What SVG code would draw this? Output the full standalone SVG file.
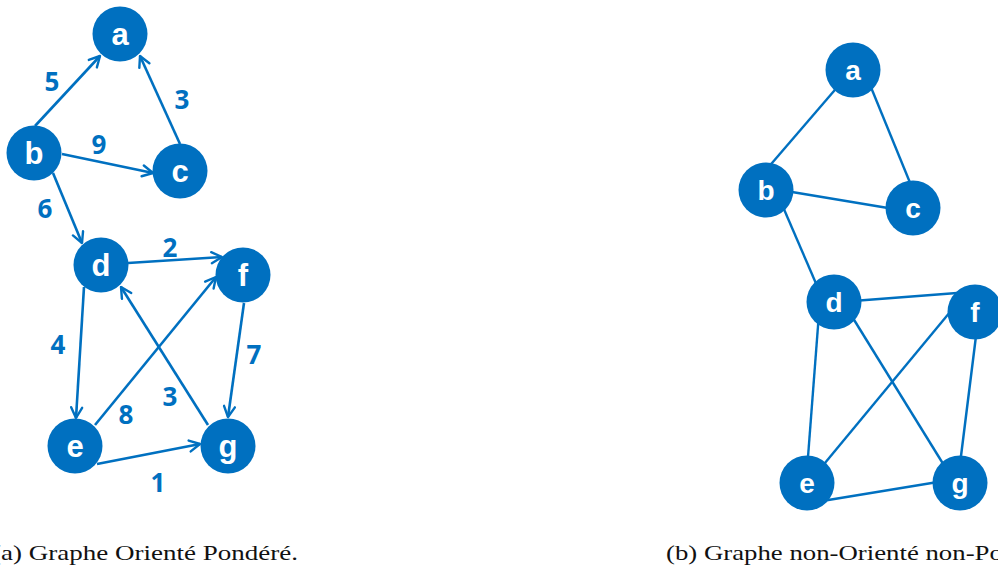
<svg xmlns="http://www.w3.org/2000/svg" width="998" height="570" viewBox="0 0 998 570">
<defs>
<style>
.node{fill:#0070C0;}
.lbl{font-family:"Liberation Sans",Arial,sans-serif;font-weight:bold;fill:#ffffff;text-anchor:middle;}
.l1{font-size:31px;}
.l2{font-size:28px;}
.e{stroke:#0070C0;stroke-width:2.6;fill:none;}
.u{stroke:#0070C0;stroke-width:2.4;fill:none;}
.w{font-family:"Open Sans","DejaVu Sans",sans-serif;font-weight:bold;font-size:26px;fill:#0070C0;text-anchor:middle;}
.cap{font-family:"Liberation Serif","Times New Roman",serif;font-size:22px;fill:#111111;}
</style>
<marker id="arr" viewBox="0 0 14 14" refX="12.5" refY="7" markerWidth="14" markerHeight="14" markerUnits="userSpaceOnUse" orient="auto">
<path d="M2,1.5 L12.5,7 L2,12.5" fill="none" stroke="#0070C0" stroke-width="2.4" stroke-linecap="round" stroke-linejoin="round"/>
</marker>
</defs>
<rect width="998" height="570" fill="#ffffff"/>
<g id="connectors-a">
<line class="e" x1="35" y1="126" x2="100" y2="56" marker-end="url(#arr)"/>
<line class="e" x1="180" y1="144" x2="140" y2="56" marker-end="url(#arr)"/>
<line class="e" x1="62" y1="154" x2="153" y2="173" marker-end="url(#arr)"/>
<line class="e" x1="53" y1="173" x2="82" y2="243" marker-end="url(#arr)"/>
<line class="e" x1="128" y1="263" x2="222" y2="257" marker-end="url(#arr)"/>
<line class="e" x1="84" y1="287" x2="76" y2="418" marker-end="url(#arr)"/>
<line class="e" x1="244" y1="303" x2="228" y2="417" marker-end="url(#arr)"/>
<line class="e" x1="208" y1="425" x2="121" y2="287" marker-end="url(#arr)"/>
<line class="e" x1="95" y1="425" x2="216" y2="277" marker-end="url(#arr)"/>
<line class="e" x1="97" y1="464" x2="200" y2="444" marker-end="url(#arr)"/>
</g>
<g id="weights-a">
<text class="w" x="52" y="91">5</text>
<text class="w" x="182" y="109">3</text>
<text class="w" x="99" y="154">9</text>
<text class="w" x="45" y="218">6</text>
<text class="w" x="170" y="257">2</text>
<text class="w" x="58" y="354">4</text>
<text class="w" x="254" y="364">7</text>
<text class="w" x="170" y="406">3</text>
<text class="w" x="126" y="424">8</text>
<text class="w" x="158" y="492">1</text>
</g>
<g id="a-a"><circle class="node" cx="120" cy="34" r="27.5"/><text class="lbl l1" x="120" y="45">a</text></g>
<g id="a-b"><circle class="node" cx="34" cy="153" r="27.5"/><text class="lbl l1" x="34" y="164">b</text></g>
<g id="a-c"><circle class="node" cx="180" cy="171" r="27.5"/><text class="lbl l1" x="180" y="182">c</text></g>
<g id="a-d"><circle class="node" cx="101" cy="265" r="27.5"/><text class="lbl l1" x="101" y="276">d</text></g>
<g id="a-f"><circle class="node" cx="243" cy="275" r="27.5"/><text class="lbl l1" x="243" y="286">f</text></g>
<g id="a-e"><circle class="node" cx="75" cy="446" r="27.5"/><text class="lbl l1" x="75" y="457">e</text></g>
<g id="a-g"><circle class="node" cx="228" cy="446" r="27.5"/><text class="lbl l1" x="228" y="457">g</text></g>
<g id="connectors-b">
<line class="u" x1="840" y1="84" x2="766" y2="170"/>
<line class="u" x1="868" y1="80" x2="913" y2="190"/>
<line class="u" x1="780" y1="190" x2="900" y2="210"/>
<line class="u" x1="780" y1="200" x2="824" y2="302"/>
<line class="u" x1="840" y1="302" x2="970" y2="292"/>
<line class="u" x1="820" y1="300" x2="807" y2="470"/>
<line class="u" x1="843" y1="302" x2="950" y2="475"/>
<line class="u" x1="960" y1="300" x2="815" y2="475"/>
<line class="u" x1="978" y1="320" x2="958" y2="480"/>
<line class="u" x1="810" y1="503" x2="950" y2="480"/>
</g>
<g id="b-a"><circle class="node" cx="853" cy="70" r="27.5"/><text class="lbl l2" x="853" y="80">a</text></g>
<g id="b-b"><circle class="node" cx="766" cy="190" r="27.5"/><text class="lbl l2" x="766" y="200">b</text></g>
<g id="b-c"><circle class="node" cx="913" cy="208" r="27.5"/><text class="lbl l2" x="913" y="218">c</text></g>
<g id="b-d"><circle class="node" cx="834" cy="302" r="27.5"/><text class="lbl l2" x="834" y="312">d</text></g>
<g id="b-f"><circle class="node" cx="975" cy="312" r="27.5"/><text class="lbl l2" x="975" y="322">f</text></g>
<g id="b-e"><circle class="node" cx="807" cy="483" r="27.5"/><text class="lbl l2" x="807" y="493">e</text></g>
<g id="b-g"><circle class="node" cx="960" cy="483" r="27.5"/><text class="lbl l2" x="960" y="493">g</text></g>
<g id="captions">
<text class="cap" x="-8" y="560" textLength="306" lengthAdjust="spacingAndGlyphs">(a) Graphe Orienté Pondéré.</text>
<text class="cap" x="666" y="560" textLength="403" lengthAdjust="spacingAndGlyphs">(b) Graphe non-Orienté non-Pondéré.</text>
</g>
</svg>
